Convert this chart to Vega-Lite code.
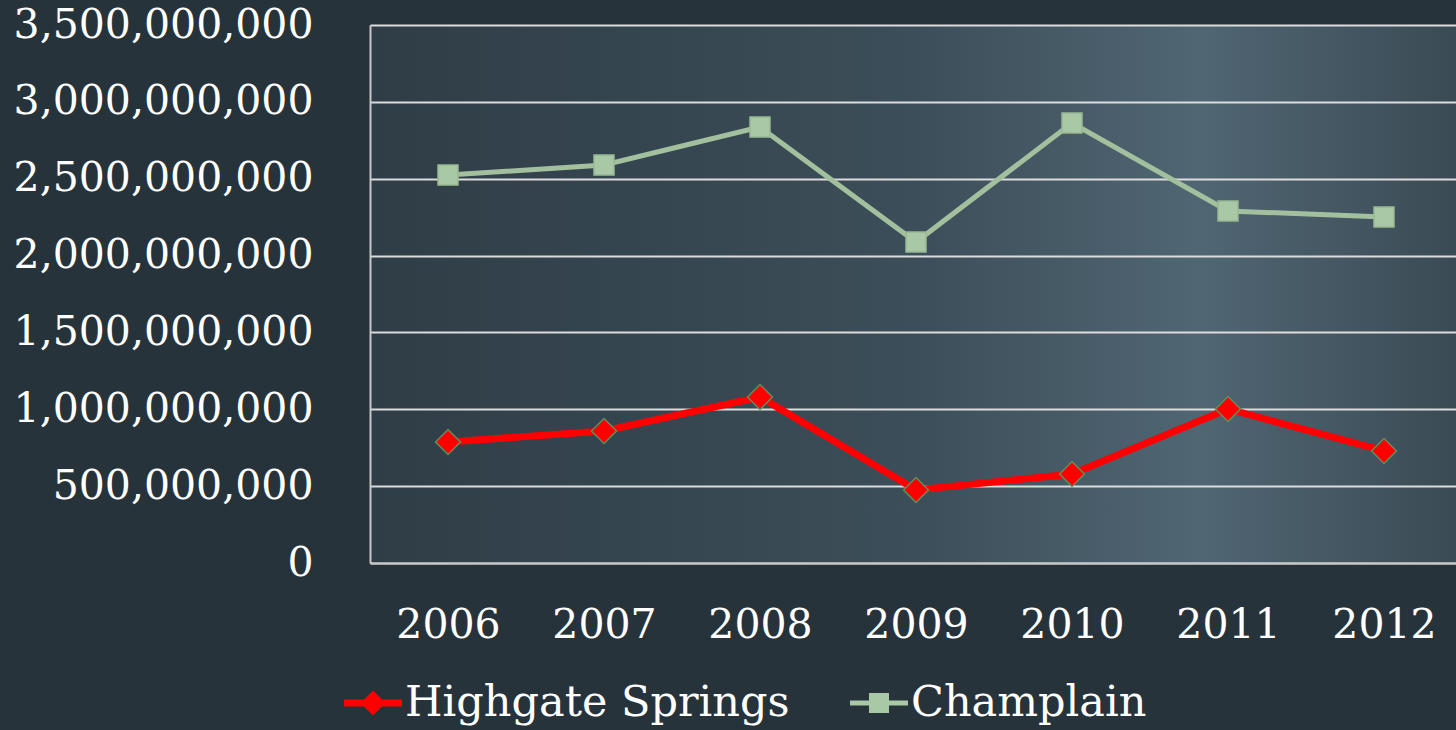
{
  "$schema": "https://vega.github.io/schema/vega-lite/v6.json",
  "width": 1092,
  "height": 538,
  "autosize": {"type": "none"},
  "padding": {"left": 370, "top": 25, "right": 0, "bottom": 167},
  "background": "#27333a",
  "config": {
    "view": {"stroke": null, "fill": {"gradient": "linear", "x1": 0, "y1": 0, "x2": 1, "y2": 0, "stops": [{"offset": 0, "color": "#2f3d46"}, {"offset": 0.5, "color": "#3c4e59"}, {"offset": 0.76, "color": "#506673"}, {"offset": 1, "color": "#3a4a54"}]}},
    "font": "DejaVu Serif"
  },
  "data": {
    "values": [
      {"year": "2006", "series": "Highgate Springs", "value": 787000000},
      {"year": "2007", "series": "Highgate Springs", "value": 859000000},
      {"year": "2008", "series": "Highgate Springs", "value": 1080000000},
      {"year": "2009", "series": "Highgate Springs", "value": 475000000},
      {"year": "2010", "series": "Highgate Springs", "value": 579000000},
      {"year": "2011", "series": "Highgate Springs", "value": 1002000000},
      {"year": "2012", "series": "Highgate Springs", "value": 729000000},
      {"year": "2006", "series": "Champlain", "value": 2524000000},
      {"year": "2007", "series": "Champlain", "value": 2589000000},
      {"year": "2008", "series": "Champlain", "value": 2836000000},
      {"year": "2009", "series": "Champlain", "value": 2088000000},
      {"year": "2010", "series": "Champlain", "value": 2862000000},
      {"year": "2011", "series": "Champlain", "value": 2290000000},
      {"year": "2012", "series": "Champlain", "value": 2251000000}
    ]
  },
  "encoding": {
    "x": {
      "field": "year", "type": "ordinal",
      "scale": {"type": "point", "padding": 0.5},
      "axis": {"title": null, "labelAngle": 0, "labelFont": "DejaVu Serif", "labelFontSize": 41, "labelColor": "#ffffff", "labelPadding": 42, "labelLimit": 0, "ticks": false, "tickSize": 0, "domainColor": "#c8c8c8", "domainWidth": 2, "grid": false}
    },
    "y": {
      "field": "value", "type": "quantitative",
      "scale": {"domain": [0, 3500000000], "nice": false},
      "axis": {"title": null, "values": [0, 500000000, 1000000000, 1500000000, 2000000000, 2500000000, 3000000000, 3500000000], "format": ",d", "labelFont": "DejaVu Serif", "labelFontSize": 41, "labelColor": "#ffffff", "labelPadding": 57, "labelLimit": 0, "ticks": false, "tickSize": 0, "domainColor": "#c8c8c8", "domainWidth": 2, "grid": true, "gridColor": "#dcdcdc", "gridWidth": 2, "gridOpacity": 1}
    }
  },
  "layer": [
    {
      "mark": {"type": "line"},
      "encoding": {
        "color": {
          "field": "series", "type": "nominal",
          "scale": {"domain": ["Highgate Springs", "Champlain"], "range": ["#ff0000", "#a2c09e"]},
          "legend": {
            "orient": "none", "legendX": -26, "legendY": 649, "direction": "horizontal", "title": null,
            "labelFont": "DejaVu Serif", "labelFontSize": 43, "labelColor": "#ffffff", "labelOffset": 3, "labelLimit": 0,
            "symbolSize": 3364, "columnPadding": 60, "symbolStrokeWidth": 0,
            "encode": {
              "symbols": {"update": {
                "shape": {"signal": "datum.value === 'Champlain' ? 'M-1,-0.086H-0.345V-0.345H0.345V-0.086H1V0.086H0.345V0.345H-0.345V0.086H-1Z' : 'M-1,-0.12H-0.31L0,-0.43L0.31,-0.12H1V0.12H0.31L0,0.43L-0.31,0.12H-1Z'"},
                "fill": {"signal": "datum.value === 'Champlain' ? '#a9c8a5' : '#ff0000'"},
                "fillOpacity": {"value": 1},
                "stroke": {"value": "transparent"},
                "strokeWidth": {"value": 0}
              }}
            }
          }
        },
        "strokeWidth": {
          "field": "series", "type": "nominal",
          "scale": {"domain": ["Highgate Springs", "Champlain"], "range": [7, 5]},
          "legend": null
        }
      }
    },
    {
      "mark": {"type": "point", "filled": true, "opacity": 1, "strokeWidth": 1.5},
      "encoding": {
        "color": {"field": "series", "type": "nominal", "scale": {"domain": ["Highgate Springs", "Champlain"], "range": ["#ff0000", "#a9c8a5"]}, "legend": null},
        "shape": {"field": "series", "type": "nominal", "scale": {"domain": ["Highgate Springs", "Champlain"], "range": ["diamond", "square"]}, "legend": null},
        "size": {"field": "series", "type": "nominal", "scale": {"domain": ["Highgate Springs", "Champlain"], "range": [625, 400]}, "legend": null},
        "stroke": {"field": "series", "type": "nominal", "scale": {"domain": ["Highgate Springs", "Champlain"], "range": ["#5e8f5e", "#98b893"]}, "legend": null}
      }
    }
  ],
  "resolve": {"scale": {"color": "independent"}}
}
